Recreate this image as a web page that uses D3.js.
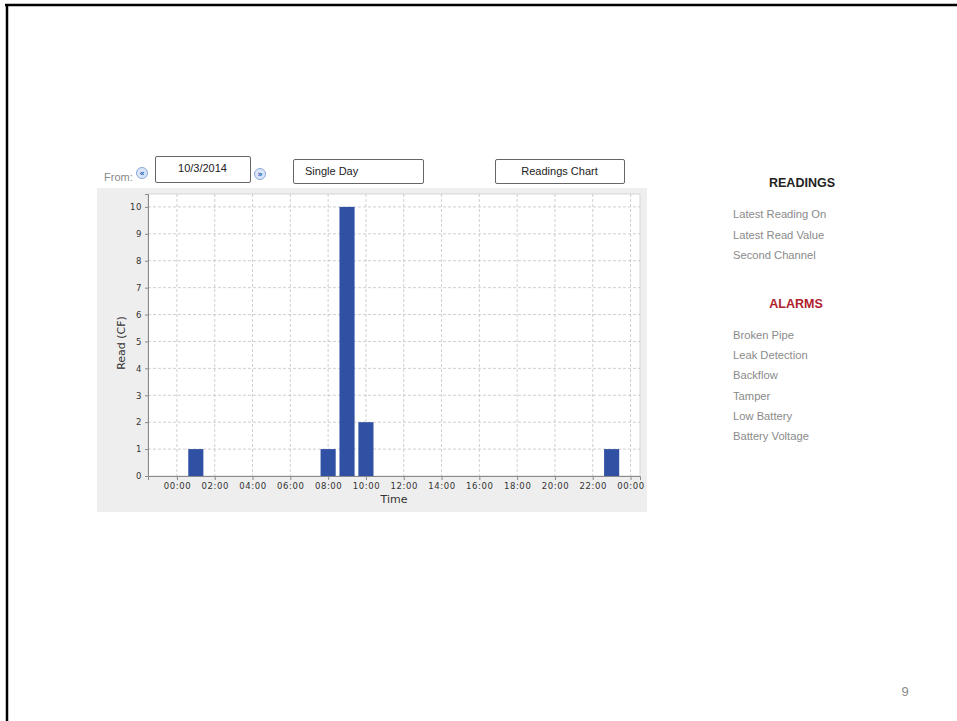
<!DOCTYPE html>
<html>
<head>
<meta charset="utf-8">
<script src="https://cdn.jsdelivr.net/npm/d3@7"></script>
<style>
  body { margin: 0; background: #fff; }
  svg { display: block; }
</style>
</head>
<body>
<div id="chart"></div>
<script>
// readings per hour
let hours = [1, 8, 9, 10, 23];
let reads = [1, 1, 10, 2, 1];
let tickHours = [0, 2, 4, 6, 8, 10, 12, 14, 16, 18, 20, 22, 24];
let tickLabels = ["00:00", "02:00", "04:00", "06:00", "08:00", "10:00", "12:00",
                  "14:00", "16:00", "18:00", "20:00", "22:00", "00:00"];
let yTicks = [0, 1, 2, 3, 4, 5, 6, 7, 8, 9, 10];
let readingItems = ["Latest Reading On", "Latest Read Value", "Second Channel"];
let alarmItems = ["Broken Pipe", "Leak Detection", "Backflow", "Tamper", "Low Battery", "Battery Voltage"];

let W = 957, H = 721;
let svg = d3.select('#chart')
  .append('svg')
  .attr('width', W)
  .attr('height', H);

// slide frame
svg.append('line').attr('x1', 5).attr('x2', W).attr('y1', 5).attr('y2', 5)
  .attr('stroke', '#000').attr('stroke-width', 2.5);
svg.append('line').attr('x1', 7).attr('x2', 7).attr('y1', 4).attr('y2', H)
  .attr('stroke', '#000').attr('stroke-width', 2.5);

// chart panel
svg.append('rect')
  .attr('x', 97).attr('y', 188).attr('width', 550).attr('height', 324)
  .attr('fill', '#eeeeee');

let pLeft = 148, pRight = 640, pTop = 194, pBottom = 476;

let x = d3.scaleLinear().domain([-1.53, 24.5]).range([pLeft, pRight]);
let y = d3.scaleLinear().domain([0, 10.48]).range([pBottom, pTop]);
let barW = x(0.8) - x(0);

svg.append('rect')
  .attr('x', pLeft).attr('y', pTop).attr('width', pRight - pLeft).attr('height', pBottom - pTop)
  .attr('fill', '#fff').attr('stroke', '#d6d6d6');

// grid
let grid = svg.append('g')
  .attr('stroke', '#c4c4c4').attr('stroke-dasharray', '3,2').attr('stroke-width', 0.8);
grid.selectAll('.gx').data(tickHours).enter().append('line')
  .attr('x1', d => x(d)).attr('x2', d => x(d))
  .attr('y1', pTop).attr('y2', pBottom);
grid.selectAll('.gy').data(yTicks.slice(1)).enter().append('line')
  .attr('x1', pLeft).attr('x2', pRight)
  .attr('y1', d => y(d)).attr('y2', d => y(d));

// bars
svg.selectAll('.bar')
  .data(hours)
  .enter()
  .append('rect')
  .attr('class', 'bar')
  .attr('x', d => x(d) - barW / 2)
  .attr('width', barW)
  .attr('y', (d, i) => y(reads[i]))
  .attr('height', (d, i) => y(0) - y(reads[i]))
  .attr('fill', '#3050a3');

// axes
let yAxis = svg.append('g')
  .attr('transform', 'translate(' + pLeft + ',0)')
  .call(d3.axisLeft(y).tickValues(yTicks).tickSize(3).tickPadding(3).tickFormat(d3.format('d')));
let xAxis = svg.append('g')
  .attr('transform', 'translate(0,' + pBottom + ')')
  .call(d3.axisBottom(x).tickValues(tickHours).tickSize(4).tickPadding(3)
    .tickFormat((d, i) => tickLabels[i]));

[xAxis, yAxis].forEach(a => {
  a.select('.domain').attr('stroke', '#8a8a8a');
  a.selectAll('.tick line').attr('stroke', '#8a8a8a');
  a.selectAll('.tick text')
    .attr('fill', '#333')
    .style('font-family', 'DejaVu Sans')
    .style('font-size', '8.5px')
    .style('letter-spacing', '0.6px');
});

svg.append('text')
  .attr('x', 394).attr('y', 503)
  .attr('text-anchor', 'middle')
  .style('font-family', 'DejaVu Sans').style('font-size', '11px')
  .attr('fill', '#333')
  .text('Time');

svg.append('text')
  .attr('transform', 'translate(125,343) rotate(-90)')
  .attr('text-anchor', 'middle')
  .style('font-family', 'DejaVu Sans').style('font-size', '11px')
  .attr('fill', '#333')
  .text('Read (CF)');

// top controls
svg.append('text')
  .attr('x', 104).attr('y', 181)
  .style('font-family', 'Liberation Sans').style('font-size', '11px')
  .attr('fill', '#8a8a8a')
  .text('From:');

let icons = [{ cx: 142, cy: 173, t: '«' }, { cx: 260, cy: 174, t: '»' }];
icons.forEach(ic => {
  svg.append('circle').attr('cx', ic.cx).attr('cy', ic.cy).attr('r', 5.5)
    .attr('fill', '#d9e6f7').attr('stroke', '#8aa8d8');
  svg.append('text').attr('x', ic.cx).attr('y', ic.cy + 2.5)
    .attr('text-anchor', 'middle')
    .style('font-family', 'DejaVu Sans').style('font-size', '8px').style('font-weight', 'bold')
    .attr('fill', '#2d5fb8')
    .text(ic.t);
});

let boxes = [
  { x: 155, y: 156, w: 95, h: 26, t: '10/3/2014', anchor: 'middle' },
  { x: 293, y: 159, w: 130, h: 24, t: 'Single Day', anchor: 'start' },
  { x: 495, y: 159, w: 129, h: 24, t: 'Readings Chart', anchor: 'middle' }
];
boxes.forEach(b => {
  svg.append('rect')
    .attr('x', b.x + 0.5).attr('y', b.y + 0.5).attr('width', b.w).attr('height', b.h)
    .attr('rx', 1.5)
    .attr('fill', '#fff').attr('stroke', '#666');
  svg.append('text')
    .attr('x', b.anchor === 'middle' ? b.x + b.w / 2 : b.x + 12)
    .attr('y', b.y + 16)
    .attr('text-anchor', b.anchor)
    .style('font-family', 'Liberation Sans').style('font-size', '11px')
    .attr('fill', '#222')
    .text(b.t);
});

// right panel
svg.append('text')
  .attr('x', 802).attr('y', 187)
  .attr('text-anchor', 'middle')
  .style('font-family', 'Liberation Sans').style('font-size', '12.5px').style('font-weight', 'bold')
  .attr('fill', '#222')
  .text('READINGS');

svg.selectAll('.reading')
  .data(readingItems)
  .enter()
  .append('text')
  .attr('x', 733)
  .attr('y', (d, i) => 218 + i * 20.5)
  .style('font-family', 'Liberation Sans').style('font-size', '11.2px')
  .attr('fill', '#8a8a8a')
  .text(d => d);

svg.append('text')
  .attr('x', 796).attr('y', 308)
  .attr('text-anchor', 'middle')
  .style('font-family', 'Liberation Sans').style('font-size', '12.5px').style('font-weight', 'bold')
  .attr('fill', '#b0202e')
  .text('ALARMS');

svg.selectAll('.alarm')
  .data(alarmItems)
  .enter()
  .append('text')
  .attr('x', 733)
  .attr('y', (d, i) => 339 + i * 20.2)
  .style('font-family', 'Liberation Sans').style('font-size', '11.2px')
  .attr('fill', '#8a8a8a')
  .text(d => d);

svg.append('text')
  .attr('x', 905).attr('y', 696)
  .attr('text-anchor', 'middle')
  .style('font-family', 'Liberation Sans').style('font-size', '13px')
  .attr('fill', '#8a8a8a')
  .text('9');
</script>
</body>
</html>
